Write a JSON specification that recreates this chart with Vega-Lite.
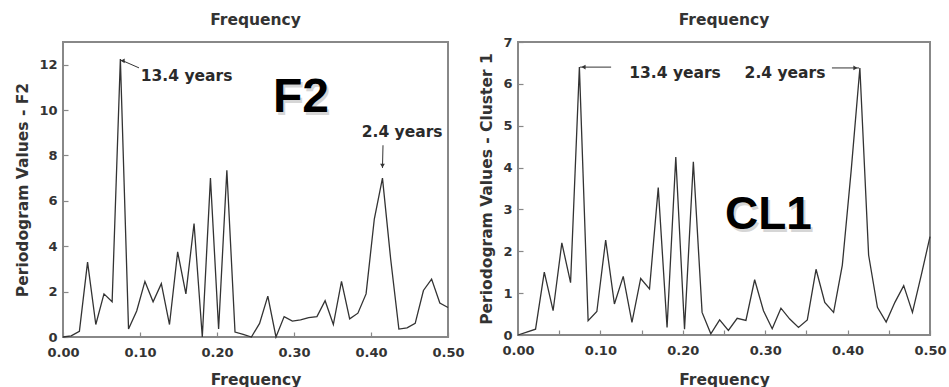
{
  "$schema": "https://vega.github.io/schema/vega-lite/v6.json",
  "background": "white",
  "padding": {"left": 14, "top": 11, "right": 0, "bottom": 0},
  "spacing": 12,
  "config": {
    "view": {"stroke": "#888888", "strokeWidth": 2},
    "axis": {
      "domain": false, "grid": false,
      "tickColor": "#888888", "tickSize": -5, "tickWidth": 1.2,
      "labelFont": "DejaVu Sans", "labelFontWeight": "bold", "labelFontSize": 13, "labelColor": "#333333",
      "titleFont": "DejaVu Sans", "titleFontWeight": "bold", "titleFontSize": 15.5, "titleColor": "#333333"
    },
    "title": {"font": "DejaVu Sans", "fontWeight": "bold", "fontSize": 15.5, "color": "#333333"}
  },
  "datasets": {
    "f2": [
      {"f": 0, "p": 0}, {"f": 0.0106, "p": 0.05}, {"f": 0.0213, "p": 0.25}, {"f": 0.0319, "p": 3.3},
      {"f": 0.0426, "p": 0.55}, {"f": 0.0532, "p": 1.9}, {"f": 0.0638, "p": 1.55}, {"f": 0.0745, "p": 12.25},
      {"f": 0.0851, "p": 0.35}, {"f": 0.0957, "p": 1.15}, {"f": 0.1064, "p": 2.45}, {"f": 0.117, "p": 1.55},
      {"f": 0.1277, "p": 2.35}, {"f": 0.1383, "p": 0.55}, {"f": 0.1489, "p": 3.75}, {"f": 0.1596, "p": 1.9},
      {"f": 0.1702, "p": 5.0}, {"f": 0.1809, "p": 0}, {"f": 0.1915, "p": 7.0}, {"f": 0.2021, "p": 0.35},
      {"f": 0.2128, "p": 7.35}, {"f": 0.2234, "p": 0.22}, {"f": 0.234, "p": 0.12}, {"f": 0.2447, "p": 0.0},
      {"f": 0.2553, "p": 0.6}, {"f": 0.266, "p": 1.8}, {"f": 0.2766, "p": 0.0}, {"f": 0.2872, "p": 0.9},
      {"f": 0.2979, "p": 0.7}, {"f": 0.3085, "p": 0.75}, {"f": 0.3191, "p": 0.85}, {"f": 0.3298, "p": 0.9},
      {"f": 0.3404, "p": 1.6}, {"f": 0.3511, "p": 0.55}, {"f": 0.3617, "p": 2.45}, {"f": 0.3723, "p": 0.8},
      {"f": 0.383, "p": 1.05}, {"f": 0.3936, "p": 1.9}, {"f": 0.4043, "p": 5.2}, {"f": 0.4149, "p": 7.0},
      {"f": 0.4255, "p": 3.45}, {"f": 0.4362, "p": 0.35}, {"f": 0.4468, "p": 0.4}, {"f": 0.4574, "p": 0.6},
      {"f": 0.4681, "p": 2.05}, {"f": 0.4787, "p": 2.55}, {"f": 0.4894, "p": 1.5}, {"f": 0.5, "p": 1.3}
    ],
    "cl1": [
      {"f": 0, "p": 0}, {"f": 0.0106, "p": 0.07}, {"f": 0.0213, "p": 0.14}, {"f": 0.0319, "p": 1.5},
      {"f": 0.0426, "p": 0.58}, {"f": 0.0532, "p": 2.2}, {"f": 0.0638, "p": 1.25}, {"f": 0.0745, "p": 6.4},
      {"f": 0.0851, "p": 0.34}, {"f": 0.0957, "p": 0.56}, {"f": 0.1064, "p": 2.27}, {"f": 0.117, "p": 0.74},
      {"f": 0.1277, "p": 1.4}, {"f": 0.1383, "p": 0.3}, {"f": 0.1489, "p": 1.35}, {"f": 0.1596, "p": 1.1},
      {"f": 0.1702, "p": 3.52}, {"f": 0.1809, "p": 0.18}, {"f": 0.1915, "p": 4.25}, {"f": 0.2021, "p": 0.14},
      {"f": 0.2128, "p": 4.14}, {"f": 0.2234, "p": 0.54}, {"f": 0.234, "p": 0.03}, {"f": 0.2447, "p": 0.36},
      {"f": 0.2553, "p": 0.11}, {"f": 0.266, "p": 0.4}, {"f": 0.2766, "p": 0.35}, {"f": 0.2872, "p": 1.32},
      {"f": 0.2979, "p": 0.58}, {"f": 0.3085, "p": 0.15}, {"f": 0.3191, "p": 0.64}, {"f": 0.3298, "p": 0.38},
      {"f": 0.3404, "p": 0.18}, {"f": 0.3511, "p": 0.36}, {"f": 0.3617, "p": 1.57}, {"f": 0.3723, "p": 0.78},
      {"f": 0.383, "p": 0.54}, {"f": 0.3936, "p": 1.67}, {"f": 0.4043, "p": 3.92}, {"f": 0.4149, "p": 6.38},
      {"f": 0.4255, "p": 1.91}, {"f": 0.4362, "p": 0.66}, {"f": 0.4468, "p": 0.31}, {"f": 0.4574, "p": 0.78},
      {"f": 0.4681, "p": 1.18}, {"f": 0.4787, "p": 0.54}, {"f": 0.4894, "p": 1.43}, {"f": 0.5, "p": 2.35}
    ],
    "f2_leaders": [
      {"g": "a", "f": 0.0752, "p": 12.2}, {"g": "a", "f": 0.0792, "p": 12.15}, {"g": "a", "f": 0.0987, "p": 11.86},
      {"g": "b", "f": 0.4156, "p": 8.45}, {"g": "b", "f": 0.4149, "p": 7.45}
    ],
    "f2_heads": [
      {"f": 0.0775, "p": 12.17, "dir": "left"},
      {"f": 0.4149, "p": 7.55, "dir": "down"}
    ],
    "f2_notes": [
      {"f": 0.101, "p": 11.5, "label": "13.4 years"},
      {"f": 0.388, "p": 9.02, "label": "2.4 years"}
    ],
    "f2_tag": [{"f": 0.309, "p": 10.55, "label": "F2"}],
    "cl1_leaders": [
      {"g": "a", "f": 0.0752, "p": 6.4}, {"g": "a", "f": 0.113, "p": 6.4},
      {"g": "b", "f": 0.381, "p": 6.38}, {"g": "b", "f": 0.414, "p": 6.38}
    ],
    "cl1_heads": [
      {"f": 0.0795, "p": 6.4, "dir": "left"},
      {"f": 0.4095, "p": 6.38, "dir": "right"}
    ],
    "cl1_notes": [
      {"f": 0.135, "p": 6.27, "label": "13.4 years"},
      {"f": 0.275, "p": 6.27, "label": "2.4 years"}
    ],
    "cl1_tag": [{"f": 0.304, "p": 2.86, "label": "CL1"}]
  },
  "hconcat": [
    {
      "width": 385, "height": 295,
      "title": {"text": "Frequency", "offset": 14},
      "layer": [
        {
          "data": {"name": "f2"},
          "mark": {"type": "line", "color": "#333333", "strokeWidth": 1.3},
          "encoding": {
            "x": {"field": "f", "type": "quantitative", "scale": {"domain": [0, 0.5], "nice": false},
              "axis": {"title": "Frequency", "values": [0, 0.05, 0.1, 0.15, 0.2, 0.25, 0.3, 0.35, 0.4, 0.45, 0.5],
                "labelExpr": "round(datum.value * 20) % 2 == 0 ? format(datum.value, '.2f') : ''",
                "labelPadding": 14, "titlePadding": 13, "labelFlush": false}},
            "y": {"field": "p", "type": "quantitative", "scale": {"domain": [0, 13], "nice": false},
              "axis": {"title": "Periodogram Values - F2", "values": [0, 1, 2, 3, 4, 5, 6, 7, 8, 9, 10, 11, 12],
                "labelExpr": "datum.value % 2 == 0 ? datum.label : ''", "labelPadding": 11, "titlePadding": 8}}
          }
        },
        {
          "data": {"name": "f2_leaders"},
          "mark": {"type": "line", "color": "#333333", "strokeWidth": 1},
          "encoding": {"x": {"field": "f", "type": "quantitative"}, "y": {"field": "p", "type": "quantitative"}, "detail": {"field": "g"}}
        },
        {
          "data": {"name": "f2_heads"},
          "mark": {"type": "point", "filled": true, "color": "#333333", "size": 22, "opacity": 1},
          "encoding": {"x": {"field": "f", "type": "quantitative"}, "y": {"field": "p", "type": "quantitative"},
            "shape": {"field": "dir", "type": "nominal", "scale": {"domain": ["left", "right", "down"], "range": ["triangle-left", "triangle-right", "triangle-down"]}, "legend": null}}
        },
        {
          "data": {"name": "f2_notes"},
          "mark": {"type": "text", "align": "left", "baseline": "middle", "font": "DejaVu Sans", "fontWeight": "bold", "fontSize": 15.5, "color": "#2a2a2a"},
          "encoding": {"x": {"field": "f", "type": "quantitative"}, "y": {"field": "p", "type": "quantitative"}, "text": {"field": "label"}}
        },
        {
          "data": {"name": "f2_tag"},
          "mark": {"type": "text", "align": "center", "baseline": "middle", "font": "Liberation Sans", "fontWeight": "bold", "fontSize": 48, "color": "#9a9a9a", "opacity": 0.4, "dx": 2, "dy": 3},
          "encoding": {"x": {"field": "f", "type": "quantitative"}, "y": {"field": "p", "type": "quantitative"}, "text": {"field": "label"}}
        },
        {
          "data": {"name": "f2_tag"},
          "mark": {"type": "text", "align": "center", "baseline": "middle", "font": "Liberation Sans", "fontWeight": "bold", "fontSize": 48, "color": "#000000"},
          "encoding": {"x": {"field": "f", "type": "quantitative"}, "y": {"field": "p", "type": "quantitative"}, "text": {"field": "label"}}
        }
      ]
    },
    {
      "width": 412, "height": 293,
      "title": {"text": "Frequency", "offset": 8},
      "layer": [
        {
          "data": {"name": "cl1"},
          "mark": {"type": "line", "color": "#333333", "strokeWidth": 1.3},
          "encoding": {
            "x": {"field": "f", "type": "quantitative", "scale": {"domain": [0, 0.5], "nice": false},
              "axis": {"title": "Frequency", "values": [0, 0.05, 0.1, 0.15, 0.2, 0.25, 0.3, 0.35, 0.4, 0.45, 0.5],
                "labelExpr": "round(datum.value * 20) % 2 == 0 ? format(datum.value, '.2f') : ''",
                "labelPadding": 14, "titlePadding": 15, "labelFlush": false}},
            "y": {"field": "p", "type": "quantitative", "scale": {"domain": [0, 7], "nice": false},
              "axis": {"title": "Periodogram Values - Cluster 1", "values": [0, 1, 2, 3, 4, 5, 6, 7],
                "labelPadding": 11, "titlePadding": 8}}
          }
        },
        {
          "data": {"name": "cl1_leaders"},
          "mark": {"type": "line", "color": "#333333", "strokeWidth": 1},
          "encoding": {"x": {"field": "f", "type": "quantitative"}, "y": {"field": "p", "type": "quantitative"}, "detail": {"field": "g"}}
        },
        {
          "data": {"name": "cl1_heads"},
          "mark": {"type": "point", "filled": true, "color": "#333333", "size": 22, "opacity": 1},
          "encoding": {"x": {"field": "f", "type": "quantitative"}, "y": {"field": "p", "type": "quantitative"},
            "shape": {"field": "dir", "type": "nominal", "scale": {"domain": ["left", "right", "down"], "range": ["triangle-left", "triangle-right", "triangle-down"]}, "legend": null}}
        },
        {
          "data": {"name": "cl1_notes"},
          "mark": {"type": "text", "align": "left", "baseline": "middle", "font": "DejaVu Sans", "fontWeight": "bold", "fontSize": 15.5, "color": "#2a2a2a"},
          "encoding": {"x": {"field": "f", "type": "quantitative"}, "y": {"field": "p", "type": "quantitative"}, "text": {"field": "label"}}
        },
        {
          "data": {"name": "cl1_tag"},
          "mark": {"type": "text", "align": "center", "baseline": "middle", "font": "Liberation Sans", "fontWeight": "bold", "fontSize": 46, "color": "#9a9a9a", "opacity": 0.4, "dx": 2, "dy": 3},
          "encoding": {"x": {"field": "f", "type": "quantitative"}, "y": {"field": "p", "type": "quantitative"}, "text": {"field": "label"}}
        },
        {
          "data": {"name": "cl1_tag"},
          "mark": {"type": "text", "align": "center", "baseline": "middle", "font": "Liberation Sans", "fontWeight": "bold", "fontSize": 46, "color": "#000000"},
          "encoding": {"x": {"field": "f", "type": "quantitative"}, "y": {"field": "p", "type": "quantitative"}, "text": {"field": "label"}}
        }
      ]
    }
  ]
}
